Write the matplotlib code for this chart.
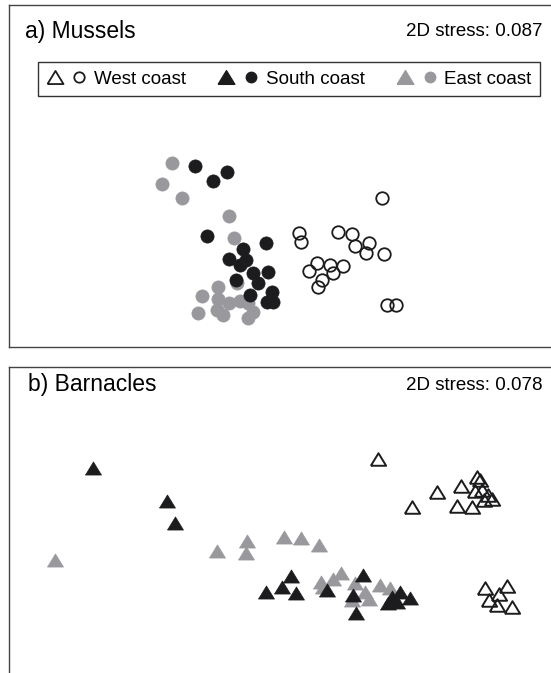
import matplotlib
matplotlib.use("Agg")
import matplotlib.pyplot as plt
from matplotlib.lines import Line2D
from matplotlib.legend_handler import HandlerTuple
import numpy as np

plt.rcParams['font.family'] = ['Liberation Sans', 'DejaVu Sans']

# ---- data (MDS coordinates, in plot units) ----
mus_west_x = [382, 299, 301, 338, 352, 355, 369, 366, 384, 317, 330, 343, 309, 322, 318, 333, 387, 396]
mus_west_y = [198, 233, 242, 232, 234, 246, 243, 253, 254, 263, 265, 266, 271, 280, 287, 273, 305, 305]
mus_south_x = [195, 213, 227, 207, 266, 243, 229, 240, 246, 253, 268, 258, 236, 250, 272, 267, 273]
mus_south_y = [166, 181, 172, 236, 243, 249, 259, 265, 260, 273, 272, 283, 280, 295, 292, 302, 302]
mus_east_x = [172, 162, 182, 229, 234, 237, 218, 202, 218, 198, 229, 223, 240, 248, 253, 248, 217]
mus_east_y = [163, 184, 198, 216, 238, 283, 287, 296, 299, 313, 303, 315, 301, 303, 312, 318, 310]

bar_west_x = [378, 437, 412, 461, 477, 480, 475, 482, 457, 472, 484, 492, 488,
              485, 507, 499, 489, 497, 512]
bar_west_y = [459, 492, 507, 486, 477, 480, 491, 490, 506, 507, 500, 499, 495,
              588, 586, 594, 600, 605, 607]
bar_south_x = [93, 167, 175, 291, 282, 266, 296, 327, 363, 353, 356, 400, 410, 388, 397, 392]
bar_south_y = [468, 501, 523, 576, 587, 592, 593, 590, 575, 595, 613, 592, 598, 603, 602, 597]
bar_east_x = [55, 217, 247, 246, 284, 301, 319, 321, 323, 333, 341, 355, 365, 352, 369, 380, 390]
bar_east_y = [560, 551, 541, 553, 537, 538, 545, 582, 587, 579, 573, 583, 592, 600, 599, 585, 588]

groups = ["West coast", "South coast", "East coast"]
titles = ["a) Mussels", "b) Barnacles"]
stress = ["2D stress: 0.087", "2D stress: 0.078"]

BLACK = '#1c1c1e'
GRAY = '#99989d'

W, H = 551, 673
fig = plt.figure(figsize=(W / 100, H / 100), dpi=100)


def px_rect(l, t, r, b):
    return [l / W, 1 - b / H, (r - l) / W, (b - t) / H]


tri = [(-1, -0.82), (1, -0.82), (0, 0.82), (-1, -0.82)]

# ---- panel a ----
ax1 = fig.add_axes(px_rect(9, 5, 565, 347))
ax1.set_xlim(9, 565)
ax1.set_ylim(347, 5)
ax1.set_xticks([]); ax1.set_yticks([])
for s in ax1.spines.values():
    s.set_color('#444444'); s.set_linewidth(1.0)

ms_c = 9.5
ax1.plot(mus_east_x, mus_east_y, 'o', ms=ms_c, mfc=GRAY, mec=GRAY, mew=0.5, ls='none')
ax1.plot(mus_south_x, mus_south_y, 'o', ms=ms_c, mfc=BLACK, mec=BLACK, mew=0.5, ls='none')
ax1.plot(mus_west_x, mus_west_y, 'o', ms=ms_c - 0.5, mfc='none', mec=BLACK, mew=1.3, ls='none')

ax1.text(25, 38, titles[0], fontsize=16.5, ha='left', va='baseline',
         transform=ax1.transData)
ax1.text(542, 36, stress[0], fontsize=13.5, ha='right', va='baseline', transform=ax1.transData)

h_wt = Line2D([], [], marker=tri, ms=11.5, mfc='white', mec=BLACK, mew=1.3, ls='none')
h_wc = Line2D([], [], marker='o', ms=7.5, mfc='white', mec=BLACK, mew=1.3, ls='none')
h_st = Line2D([], [], marker=tri, ms=12, mfc=BLACK, mec=BLACK, ls='none')
h_sc = Line2D([], [], marker='o', ms=7.5, mfc=BLACK, mec=BLACK, ls='none')
h_et = Line2D([], [], marker=tri, ms=12, mfc=GRAY, mec=GRAY, ls='none')
h_ec = Line2D([], [], marker='o', ms=7.5, mfc=GRAY, mec=GRAY, ls='none')
leg = ax1.legend(handles=[(h_wt, h_wc), (h_st, h_sc), (h_et, h_ec)], labels=groups,
                 handler_map={tuple: HandlerTuple(ndivide=None, pad=0.45)},
                 ncol=3, loc='upper left', bbox_to_anchor=(38, 62),
                 bbox_transform=ax1.transData, borderaxespad=0, fancybox=False,
                 edgecolor='black', fontsize=13.5, handlelength=2.2, handletextpad=0.35,
                 columnspacing=1.7, borderpad=0.45, frameon=True)
leg.get_frame().set_linewidth(1.0)

# ---- panel b ----
ax2 = fig.add_axes(px_rect(9, 367, 565, 690))
ax2.set_xlim(9, 565)
ax2.set_ylim(690, 367)
ax2.set_xticks([]); ax2.set_yticks([])
for s in ax2.spines.values():
    s.set_color('#444444'); s.set_linewidth(1.0)

ms_t = 11.5
ax2.plot(bar_east_x, bar_east_y, marker=tri, ms=ms_t, mfc=GRAY, mec=GRAY, mew=0.5, ls='none')
ax2.plot(bar_south_x, bar_south_y, marker=tri, ms=ms_t, mfc=BLACK, mec=BLACK, mew=0.5, ls='none')
ax2.plot(bar_west_x, bar_west_y, marker=tri, ms=ms_t - 0.5, mfc='none', mec=BLACK, mew=1.4, ls='none')

ax2.text(28, 391, titles[1], fontsize=16.5, ha='left', va='baseline', transform=ax2.transData)
ax2.text(542, 390, stress[1], fontsize=13.5, ha='right', va='baseline', transform=ax2.transData)

fig.savefig('out.png', dpi=100)
